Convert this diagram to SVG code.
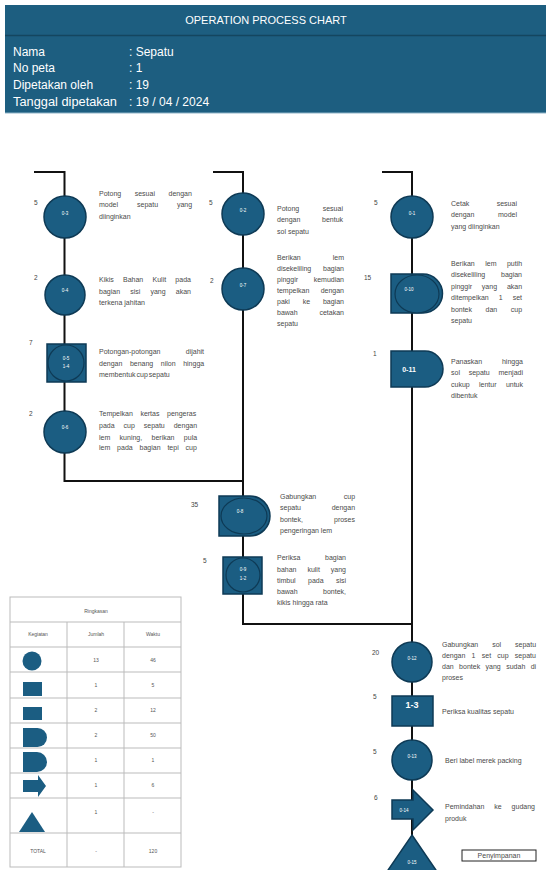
<svg xmlns="http://www.w3.org/2000/svg" width="546" height="870" viewBox="0 0 546 870">
<style>
.node{fill:#1b5d82;stroke:#0e3a55;stroke-width:1.5}
.inner{fill:#1b5d82;stroke:#0e3a55;stroke-width:1.2}
.lbl{font-family:"Liberation Sans",Arial,sans-serif;font-size:4.5px;fill:#ffffff;text-anchor:middle}
.big{font-size:7px;font-weight:bold}
.big9{font-size:9px;font-weight:bold}
.desc{font-family:"Liberation Sans",Arial,sans-serif;font-size:7px;fill:#4a4a4a}
.num{font-family:"Liberation Sans",Arial,sans-serif;font-size:6.5px;fill:#444444}
.hdr{font-family:"Liberation Sans",Arial,sans-serif;font-size:12px;fill:#ffffff}
.title{font-size:11px;text-anchor:middle}
.conn{stroke:#111111;stroke-width:2;fill:none}
.tbl{stroke:#bbbbbb;stroke-width:1;fill:none}
.tt{font-family:"Liberation Sans",Arial,sans-serif;font-size:5px;fill:#555555;text-anchor:middle}
</style>
<rect x="0" y="0" width="546" height="870" fill="#ffffff"/>
<g id="header">
<rect x="5" y="5" width="541" height="108" fill="#1d5e80"/>
<line x1="5" y1="35.5" x2="546" y2="35.5" stroke="#14465f" stroke-width="1.5"/>
<line x1="5" y1="113" x2="546" y2="113" stroke="#8fb4c8" stroke-width="1"/>
<text x="266" y="24" class="hdr title">OPERATION PROCESS CHART</text>
<text x="13" y="56" class="hdr">Nama</text><text x="129" y="56" class="hdr">: Sepatu</text>
<text x="13" y="72" class="hdr">No peta</text><text x="129" y="72" class="hdr">: 1</text>
<text x="13" y="89" class="hdr">Dipetakan oleh</text><text x="129" y="89" class="hdr">: 19</text>
<text x="13" y="106" class="hdr" textLength="104" lengthAdjust="spacingAndGlyphs">Tanggal dipetakan</text><text x="129" y="106" class="hdr">: 19 / 04 / 2024</text>
</g>
<g id="connectors">
<polyline class="conn" points="34,172 64.5,172 64.5,481 243,481"/>
<polyline class="conn" points="213,172 243,172 243,624 412,624"/>
<polyline class="conn" points="382,172 412,172 412,836"/>
</g>
<g id="o3"><circle class="node" cx="65" cy="217" r="21"/><text class="lbl" x="65" y="215">0-3</text>
<text class="num" x="34" y="205">5</text>
<text class="desc" x="99" y="195.5" word-spacing="11.6">Potong sesuai dengan</text>
<text class="desc" x="99" y="207" word-spacing="17">model sepatu yang</text>
<text class="desc" x="99" y="218.5">diinginkan</text></g>
<g id="o4"><circle class="node" cx="65" cy="295" r="20"/><text class="lbl" x="65" y="292">0-4</text>
<text class="num" x="34" y="280">2</text>
<text class="desc" x="99" y="281.5" word-spacing="7.3">Kikis Bahan Kulit pada</text>
<text class="desc" x="99" y="293.5" word-spacing="8.2">bagian sisi yang akan</text>
<text class="desc" x="99" y="304.5">terkena jahitan</text></g>
<g id="o5"><rect class="node" x="47" y="344" width="39" height="38"/><circle class="inner" cx="66" cy="363" r="18"/>
<text class="lbl" x="66" y="360">0-5</text><text class="lbl" x="66" y="368">1-4</text>
<text class="num" x="29" y="345">7</text>
<text class="desc" x="99" y="353.5" word-spacing="23.3">Potongan-potongan dijahit</text>
<text class="desc" x="99" y="365.5" word-spacing="5.6">dengan benang nilon hingga</text>
<text class="desc" x="99" y="376.5" word-spacing="-1">membentuk cup sepatu</text></g>
<g id="o6"><circle class="node" cx="65" cy="432" r="21"/><text class="lbl" x="65" y="429">0-6</text>
<text class="num" x="29" y="416">2</text>
<text class="desc" x="99" y="415.5" word-spacing="5.6">Tempelkan kertas pengeras</text>
<text class="desc" x="99" y="427.5" word-spacing="7">pada cup sepatu dengan</text>
<text class="desc" x="99" y="439.5" word-spacing="7.4">lem kuning, berikan pula</text>
<text class="desc" x="99" y="450" word-spacing="4.9">lem pada bagian tepi cup</text></g>
<g id="o2"><circle class="node" cx="243" cy="214" r="21"/><text class="lbl" x="243" y="212">0-2</text>
<text class="num" x="209" y="205">5</text>
<text class="desc" x="277" y="210.5" word-spacing="21.6">Potong sesuai</text>
<text class="desc" x="277" y="222" word-spacing="19.7">dengan bentuk</text>
<text class="desc" x="277" y="233.5">sol sepatu</text></g>
<g id="o7"><circle class="node" cx="243" cy="289" r="21"/><text class="lbl" x="243" y="287">0-7</text>
<text class="num" x="210" y="283">2</text>
<text class="desc" x="277" y="259.5" word-spacing="30">Berikan lem</text>
<text class="desc" x="277" y="270.5" word-spacing="9.8">disekeliling bagian</text>
<text class="desc" x="277" y="281.5" word-spacing="13.7">pinggir kemudian</text>
<text class="desc" x="277" y="292.5" word-spacing="9.4">tempelkan dengan</text>
<text class="desc" x="277" y="303.5" word-spacing="10.9">paki ke bagian</text>
<text class="desc" x="277" y="314.5" word-spacing="19.9">bawah cetakan</text>
<text class="desc" x="277" y="326">sepatu</text></g>
<g id="o1"><circle class="node" cx="412" cy="217" r="21"/><text class="lbl" x="412" y="215">0-1</text>
<text class="num" x="374" y="205">5</text>
<text class="desc" x="451" y="205.5" word-spacing="25.5">Cetak sesuai</text>
<text class="desc" x="451" y="217" word-spacing="21.6">dengan model</text>
<text class="desc" x="451" y="228.5">yang diinginkan</text></g>
<g id="o10"><path class="node" d="M391,274 H423 A19.5,19.5 0 0 1 423,313 H391 Z"/><ellipse class="inner" cx="417" cy="294" rx="22" ry="19"/>
<text class="lbl" x="409" y="291">0-10</text>
<text class="num" x="364" y="280">15</text>
<text class="desc" x="451" y="265.5" word-spacing="8.5">Berikan lem putih</text>
<text class="desc" x="451" y="277" word-spacing="13.8">disekeliling bagian</text>
<text class="desc" x="451" y="288.5" word-spacing="7.9">pinggir yang akan</text>
<text class="desc" x="451" y="300" word-spacing="8.1">ditempelkan 1 set</text>
<text class="desc" x="451" y="311.5" word-spacing="11.6">bontek dan cup</text>
<text class="desc" x="451" y="323">sepatu</text></g>
<g id="o11"><path class="node" d="M391,351 H425 A18,18 0 0 1 425,387 H391 Z"/>
<text class="lbl big" x="409" y="372">0-11</text>
<text class="num" x="373" y="356">1</text>
<text class="desc" x="451" y="363.5" word-spacing="17.9">Panaskan hingga</text>
<text class="desc" x="451" y="375" word-spacing="6.8">sol sepatu menjadi</text>
<text class="desc" x="451" y="386.5" word-spacing="7.4">cukup lentur untuk</text>
<text class="desc" x="451" y="397.5">dibentuk</text></g>
<g id="o8"><path class="node" d="M219,496 H250 A20,20 0 0 1 250,536 H219 Z"/><ellipse class="inner" cx="244" cy="516" rx="23" ry="18"/>
<text class="lbl" x="240" y="513">0-8</text>
<text class="num" x="191" y="507">35</text>
<text class="desc" x="280" y="498.5" word-spacing="25.6">Gabungkan cup</text>
<text class="desc" x="280" y="510" word-spacing="28.7">sepatu dengan</text>
<text class="desc" x="280" y="521.5" word-spacing="29.1">bontek, proses</text>
<text class="desc" x="280" y="532.5">pengeringan lem</text></g>
<g id="o9"><rect class="node" x="223" y="557" width="39" height="37"/><circle class="inner" cx="243" cy="575" r="17"/>
<text class="lbl" x="243" y="571">0-9</text><text class="lbl" x="243" y="580">1-2</text>
<text class="num" x="203" y="563">5</text>
<text class="desc" x="277" y="559.5" word-spacing="22.7">Periksa bagian</text>
<text class="desc" x="277" y="571.5" word-spacing="9">bahan kulit yang</text>
<text class="desc" x="277" y="582.5" word-spacing="10.4">timbul pada sisi</text>
<text class="desc" x="277" y="594" word-spacing="23.5">bawah bontek,</text>
<text class="desc" x="277" y="605">kikis hingga rata</text></g>
<g id="o12"><circle class="node" cx="412" cy="662" r="20"/><text class="lbl" x="412" y="660">0-12</text>
<text class="num" x="372" y="655">20</text>
<text class="desc" x="442" y="646.5" word-spacing="12">Gabungkan sol sepatu</text>
<text class="desc" x="442" y="657.5" word-spacing="4.3">dengan 1 set cup sepatu</text>
<text class="desc" x="442" y="669" word-spacing="3.5">dan bontek yang sudah di</text>
<text class="desc" x="442" y="680">proses</text></g>
<g id="i3"><rect class="node" x="392" y="696" width="41" height="30"/>
<text class="lbl big9" x="412" y="708">1-3</text>
<text class="num" x="373" y="699">5</text>
<text class="desc" x="442" y="713.5">Periksa kualitas sepatu</text></g>
<g id="o13"><circle class="node" cx="412" cy="760" r="20"/><text class="lbl" x="412" y="758">0-13</text>
<text class="num" x="373" y="754">5</text>
<text class="desc" x="445" y="762.5">Beri label merek packing</text></g>
<g id="o14"><path class="node" d="M392,800 H413 V790 L433,810 L413,830 V819 H392 Z"/>
<text class="lbl" x="404" y="811.5">0-14</text>
<text class="num" x="374" y="800">6</text>
<text class="desc" x="445" y="808.5" word-spacing="8">Pemindahan ke gudang</text>
<text class="desc" x="445" y="820.5">produk</text></g>
<g id="o15"><path class="node" d="M412,835 L440,876 L384,876 Z"/>
<text class="lbl" x="412" y="864">0-15</text>
<rect x="462" y="850" width="74" height="11" fill="#ffffff" stroke="#222222" stroke-width="1"/>
<text class="desc" x="499" y="858" text-anchor="middle">Penyimpanan</text></g>
<g id="summary">
<rect class="tbl" x="10" y="597" width="171" height="270"/>
<line class="tbl" x1="10" y1="622" x2="181" y2="622"/>
<line class="tbl" x1="10" y1="647" x2="181" y2="647"/>
<line class="tbl" x1="10" y1="672" x2="181" y2="672"/>
<line class="tbl" x1="10" y1="698" x2="181" y2="698"/>
<line class="tbl" x1="10" y1="723" x2="181" y2="723"/>
<line class="tbl" x1="10" y1="748" x2="181" y2="748"/>
<line class="tbl" x1="10" y1="773" x2="181" y2="773"/>
<line class="tbl" x1="10" y1="798" x2="181" y2="798"/>
<line class="tbl" x1="10" y1="833" x2="181" y2="833"/>
<line class="tbl" x1="67" y1="622" x2="67" y2="867"/>
<line class="tbl" x1="124" y1="622" x2="124" y2="867"/>
<text class="tt" x="96" y="612.5">Ringkasan</text>
<text class="tt" x="38" y="636">Kegiatan</text><text class="tt" x="96" y="636">Jumlah</text><text class="tt" x="153" y="636">Waktu</text>
<circle cx="32" cy="661" r="9.5" fill="#1b5d82"/>
<text class="tt" x="96" y="662">13</text><text class="tt" x="153" y="662">46</text>
<rect x="23" y="682" width="19" height="14" fill="#1b5d82"/>
<text class="tt" x="96" y="686.5">1</text><text class="tt" x="153" y="686.5">5</text>
<rect x="23" y="707" width="19" height="13" fill="#1b5d82"/>
<text class="tt" x="96" y="711.5">2</text><text class="tt" x="153" y="711.5">12</text>
<path d="M23,728 H37.5 A9.5,9.5 0 0 1 37.5,747 H23 Z" fill="#1b5d82"/>
<text class="tt" x="96" y="736.5">2</text><text class="tt" x="153" y="736.5">50</text>
<path d="M23,752 H37 A10,10 0 0 1 37,772 H23 Z" fill="#1b5d82"/>
<text class="tt" x="96" y="761.5">1</text><text class="tt" x="153" y="761.5">1</text>
<path d="M23,780 H38 V775 L46,786 L38,797 V792 H23 Z" fill="#1b5d82"/>
<text class="tt" x="96" y="786.5">1</text><text class="tt" x="153" y="786.5">6</text>
<path d="M32,812 L45,832 L19,832 Z" fill="#1b5d82"/>
<text class="tt" x="96" y="814">1</text><text class="tt" x="153" y="814">-</text>
<text class="tt" x="38" y="853">TOTAL</text><text class="tt" x="96" y="853">-</text><text class="tt" x="153" y="853">120</text>
</g>
</svg>
